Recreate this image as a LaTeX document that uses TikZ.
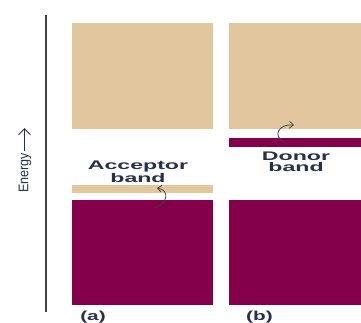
\documentclass[tikz,border=0pt]{standalone}
\usepackage{fontspec}
\setmainfont{Liberation Sans}
\usetikzlibrary{arrows.meta}
\definecolor{tan}{HTML}{E2C79E}
\definecolor{plum}{HTML}{84004A}
\definecolor{ink}{HTML}{27304A}
\tikzset{
  x=1pt,y=-1pt,
  tanband/.style={fill=tan,draw=none},
  plumband/.style={fill=plum,draw=none},
  lbl/.style={text=ink,font=\fontsize{12.5}{11.5}\selectfont\bfseries,align=center,inner sep=0pt},
  sublbl/.style={text=ink,font=\fontsize{13}{13}\selectfont\bfseries,inner sep=0pt},
  hop/.style={draw=black!75,line width=0.8pt,-{Straight Barb[length=4pt,width=7pt]}}
}
\begin{document}
\begin{tikzpicture}
\useasboundingbox (0,0) rectangle (361,322);
% axis
\draw[black!75,line width=1.1pt] (46,15) -- (46,312);
\node[rotate=90,text=ink,font=\fontsize{14}{14}\selectfont,inner sep=0pt] (energy) at (25,173) {\scalebox{0.9}[1]{Energy}};
\coordinate (ea) at (24.5,151);
\coordinate (eb) at (24.5,128);
\draw[ink,line width=1pt,-{Straight Barb[length=6pt,width=12pt,line width=1pt]}] (ea) -- (eb);
% (a)
\fill[tanband] (72,23) rectangle (213,129);
\fill[tanband] (72,185) rectangle (213,193);
\fill[plumband] (72,200) rectangle (213,305);
% (b)
\fill[tanband] (229,23) rectangle (361,129);
\fill[plumband] (229,138) rectangle (361,147);
\fill[plumband] (229,200) rectangle (361,305);
% labels
\node[lbl] (acc) at (138,172) {\scalebox{1.85}[1]{Acceptor}\\\scalebox{1.85}[1]{band}};
\node[lbl] (don) at (296,162) {\scalebox{1.85}[1]{Donor}\\\scalebox{1.85}[1]{band}};
\node[sublbl] (la) at (93,317) {\scalebox{1.6}[1]{(a)}};
\node[sublbl] (lb) at (259.5,317) {\scalebox{1.6}[1]{(b)}};
% arrows
\coordinate (a1) at (154,208);
\coordinate (a2) at (157,188);
\draw[hop] (a1) .. controls (168,204) and (170,190) .. (a2);
\coordinate (b1) at (285,143);
\coordinate (b2) at (294,125);
\draw[hop] (b1) .. controls (272,136) and (278,124) .. (b2);
\end{tikzpicture}
\end{document}
